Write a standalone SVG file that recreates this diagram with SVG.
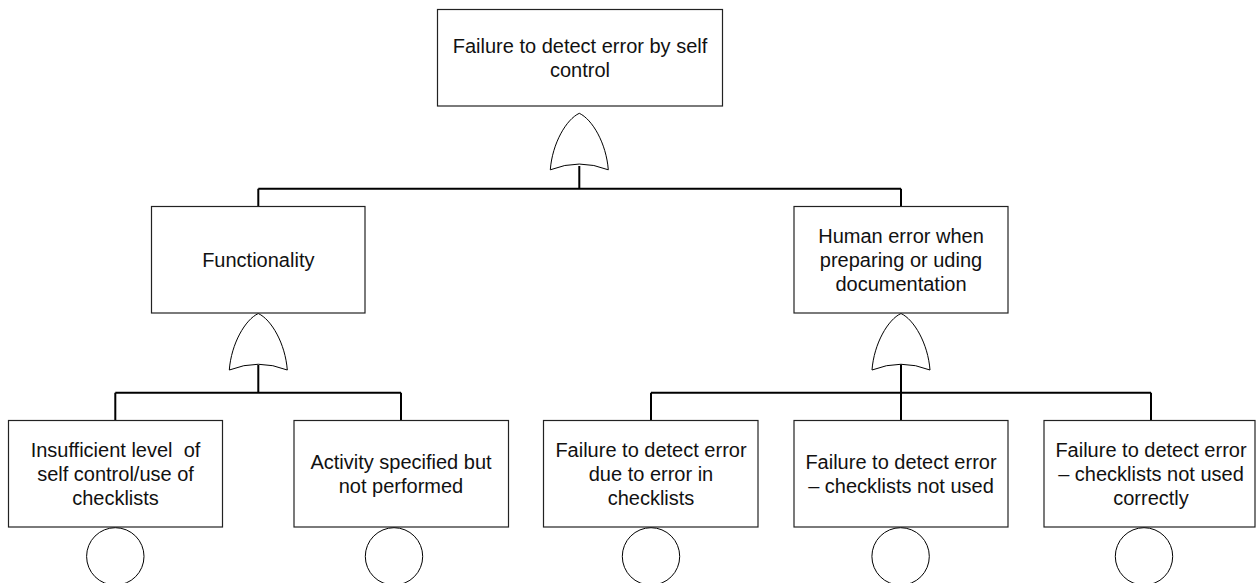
<svg xmlns="http://www.w3.org/2000/svg" width="1256" height="583" viewBox="0 0 1256 583">
  <style>
    .box { fill: #ffffff; stroke: #222222; stroke-width: 1.2; }
    .lbl { font-family: "Liberation Sans", Arial, sans-serif; font-size: 20px; fill: #111111; text-anchor: middle; }
    .wire { fill: none; stroke: #000000; stroke-width: 2; }
    .gate { fill: #ffffff; stroke: #000000; stroke-width: 1; }
    .basic { fill: #ffffff; stroke: #000000; stroke-width: 1; }
  </style>
  <defs>
    <!-- OR gate, origin at its apex -->
    <path id="orGate" d="M -29,56.5 C -27,30 -13,6 0,0 C 13,6 27,30 29,56.5 Q 0,45 -29,56.5 Z"/>
  </defs>
  <rect width="1256" height="583" fill="#ffffff"/>

  <!-- connectors -->
  <g id="connectors">
    <path class="wire" d="M579.3,166 V188.7 M258.3,188.7 H901 M258.3,188.7 V206.5 M901,188.7 V206.5"/>
    <path class="wire" d="M258.3,365 V392.7 M115.3,392.7 H401 M115.3,392.7 V420.5 M401,392.7 V420.5"/>
    <path class="wire" d="M901,364.5 V392.7 M651,392.7 H1151 M651,392.7 V420.5 M901,392.7 V420.5 M1151,392.7 V420.5"/>
  </g>

  <!-- gates -->
  <g id="gate-top"><use href="#orGate" class="gate" transform="translate(579.3,113.3)"/></g>
  <g id="gate-functionality"><use href="#orGate" class="gate" transform="translate(258.3,313.5)"/></g>
  <g id="gate-human"><use href="#orGate" class="gate" transform="translate(901,313.5)"/></g>

  <g id="top-event">
    <rect class="box" x="437.5" y="9.5" width="285" height="96.5"/>
    <text class="lbl" x="580" y="52.5">Failure to detect error by self</text>
    <text class="lbl" x="580" y="76.5">control</text>
  </g>

  <g id="functionality">
    <rect class="box" x="151.5" y="206.5" width="213.5" height="106.5"/>
    <text class="lbl" x="258.3" y="266.5">Functionality</text>
  </g>

  <g id="human-error">
    <rect class="box" x="794" y="206.5" width="214" height="106.5"/>
    <text class="lbl" x="901" y="242.5">Human error when</text>
    <text class="lbl" x="901" y="266.5">preparing or uding</text>
    <text class="lbl" x="901" y="290.5">documentation</text>
  </g>

  <g id="insufficient-level">
    <rect class="box" x="8.5" y="420.5" width="214" height="106.5"/>
    <text class="lbl" x="115.5" y="456.5" xml:space="preserve">Insufficient level  of</text>
    <text class="lbl" x="115.5" y="480.5">self control/use of</text>
    <text class="lbl" x="115.5" y="504.5">checklists</text>
    <circle class="basic" cx="115.3" cy="556.4" r="28.7"/>
  </g>

  <g id="activity-not-performed">
    <rect class="box" x="294" y="420.5" width="214.5" height="106.5"/>
    <text class="lbl" x="401" y="468.5">Activity specified but</text>
    <text class="lbl" x="401" y="492.5">not performed</text>
    <circle class="basic" cx="394" cy="556.4" r="28.7"/>
  </g>

  <g id="error-in-checklists">
    <rect class="box" x="543.5" y="420.5" width="214.5" height="106.5"/>
    <text class="lbl" x="651" y="456.5">Failure to detect error</text>
    <text class="lbl" x="651" y="480.5">due to error in</text>
    <text class="lbl" x="651" y="504.5">checklists</text>
    <circle class="basic" cx="651" cy="556.4" r="28.7"/>
  </g>

  <g id="checklists-not-used">
    <rect class="box" x="794" y="420.5" width="214" height="106.5"/>
    <text class="lbl" x="901" y="468.5">Failure to detect error</text>
    <text class="lbl" x="901" y="492.5">– checklists not used</text>
    <circle class="basic" cx="900.6" cy="556.4" r="28.7"/>
  </g>

  <g id="checklists-not-used-correctly">
    <rect class="box" x="1044" y="420.5" width="211" height="106.5"/>
    <text class="lbl" x="1151" y="456.5">Failure to detect error</text>
    <text class="lbl" x="1151" y="480.5">– checklists not used</text>
    <text class="lbl" x="1151" y="504.5">correctly</text>
    <circle class="basic" cx="1144" cy="556.4" r="28.7"/>
  </g>
</svg>
